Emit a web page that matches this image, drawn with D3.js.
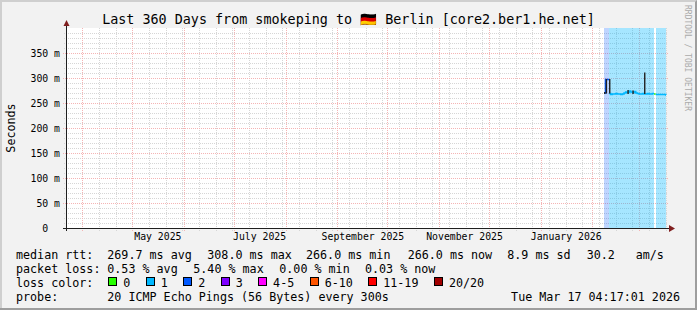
<!DOCTYPE html>
<html>
<head>
<meta charset="utf-8">
<script src="https://cdn.jsdelivr.net/npm/d3@7"></script>
<style>
  body { margin: 0; background: #f2f2f2; }
  svg text { font-family: "DejaVu Sans Mono", monospace; white-space: pre; fill: #000; }
</style>
</head>
<body>
<script>
// graph window: 360 days ending at the graph time (UTC so the sandbox TZ does not matter)
var startTime = new Date(Date.UTC(2025, 2, 22, 4, 17, 1)),
    endTime = new Date(Date.UTC(2026, 2, 17, 4, 17, 1));

var yTicks = [0, 50, 100, 150, 200, 250, 300, 350];
var labelDates = ["2025-05-16", "2025-07-16", "2025-09-16", "2025-11-16", "2026-01-16"];
var labelNames = ["May 2025", "July 2025", "September 2025", "November 2025", "January 2026"];

// daily consolidated median rtt (ms) and loss class (index into lossColors)
var days = ["2026-02-08", "2026-02-09", "2026-02-10", "2026-02-11", "2026-02-12", "2026-02-13",
            "2026-02-14", "2026-02-15", "2026-02-16", "2026-02-17", "2026-02-18", "2026-02-19",
            "2026-02-20", "2026-02-21", "2026-02-22", "2026-02-23", "2026-02-24", "2026-02-25",
            "2026-02-26", "2026-02-27", "2026-02-28", "2026-03-01", "2026-03-02", "2026-03-03",
            "2026-03-04", "2026-03-05", "2026-03-06", "2026-03-07", "2026-03-08", "2026-03-09",
            "2026-03-10", "2026-03-11", "2026-03-12", "2026-03-13", "2026-03-14", "2026-03-15",
            "2026-03-16", "2026-03-17"];
var median = [270, 297, 297, 269, 267, 268, 268, 269, 268, 268, 267, 268,
              270, 272, 271, 274, 272, 271, 273, 270, 269, 268, 268, 269,
              268, 268, 269, 268, 268, 269, 268, 267, 267, 267, 267, 267,
              267, 266];
var loss = [2, 2, 2, 1, 1, 1, 1, 1, 1, 1, 1, 1,
            1, 1, 1, 1, 1, 1, 1, 1, 1, 1, 1, 1,
            1, 1, 1, 1, 1, 1, 0, 1, 1, 1, 1, 1,
            1, 1];

// smoke (ping spread) where it shows up
var smokeDays = ["2026-02-08", "2026-02-09", "2026-02-11", "2026-02-22", "2026-02-25", "2026-03-04"];
var smokeLo = [268, 269, 269, 268, 268, 268];
var smokeHi = [272, 298, 298, 276, 275, 311];

var lossColors = ["#26ff00", "#00b8ff", "#0059ff", "#7e00ff", "#ff00ff", "#ff5500", "#ff0000", "#a10000"];
var lossLabels = ["0", "1", "2", "3", "4-5", "6-10", "11-19", "20/20"];

var rttLegend = ["269.7 ms avg", "308.0 ms max", "266.0 ms min", "266.0 ms now", "8.9 ms sd", "30.2", "am/s"];
var lossLegend = ["0.53 % avg", "5.40 % max", "0.00 % min", "0.03 % now"];

var W = 697, H = 310;
var parse = d3.utcParse("%Y-%m-%d");

var svg = d3.select("body").append("svg")
    .attr("width", W)
    .attr("height", H);

// frame: back + shades
svg.append("rect").attr("width", W).attr("height", H).attr("fill", "#f2f2f2");
svg.append("path").attr("d", "M0,0H" + W + "V2H2V" + H + "H0Z").attr("fill", "#cfcfcf");
svg.append("path").attr("d", "M" + W + ",0V" + H + "H0V" + (H - 2) + "H" + (W - 2) + "V2Z").attr("fill", "#9e9e9e");

var x = d3.scaleUtc().domain([startTime, endTime]).range([66, 666]);
var y = d3.scaleLinear().domain([0, 400]).range([228, 28]);

svg.append("rect")
    .attr("x", 66).attr("y", 28)
    .attr("width", 600).attr("height", 200)
    .attr("fill", "#fff");

var px = function(v) { return Math.round(v) + 0.5; };

// minor grid
var grid = svg.append("g").attr("fill", "none").attr("stroke-width", 1).attr("stroke-dasharray", "1,1");
grid.selectAll(".hmin")
    .data(y.ticks(40).filter(function(d) { return d % 50 !== 0; }))
  .enter().append("line")
    .attr("x1", 64).attr("x2", 668)
    .attr("y1", function(d) { return px(y(d)); })
    .attr("y2", function(d) { return px(y(d)); })
    .attr("stroke", "#d6d6d6");
grid.selectAll(".vmin")
    .data(d3.utcDay.range(d3.utcDay.floor(startTime), endTime, 10).filter(function(d) { return x(d) > 67; }))
  .enter().append("line")
    .attr("y1", 28).attr("y2", 231)
    .attr("x1", function(d) { return px(x(d)); })
    .attr("x2", function(d) { return px(x(d)); })
    .attr("stroke", "#d6d6d6");

// major grid
grid.selectAll(".hmaj")
    .data(yTicks.filter(function(d) { return d > 0; }))
  .enter().append("line")
    .attr("x1", 63).attr("x2", 668)
    .attr("y1", function(d) { return px(y(d)); })
    .attr("y2", function(d) { return px(y(d)); })
    .attr("stroke", "#f5b4b4");
grid.selectAll(".vmaj")
    .data(d3.utcMonth.range(startTime, endTime))
  .enter().append("line")
    .attr("y1", 28).attr("y2", 231)
    .attr("x1", function(d) { return px(x(d)); })
    .attr("x2", function(d) { return px(x(d)); })
    .attr("stroke", "#f5b4b4");

// loss background + median runs
var pts = days.map(function(d, i) {
  return { t: parse(d), v: median[i], c: loss[i] };
});
var runs = [];
pts.forEach(function(p, i) {
  var next = i + 1 < pts.length ? pts[i + 1].t : endTime;
  var last = runs[runs.length - 1];
  if (!last || last.c !== p.c) {
    last = { c: p.c, pts: [] };
    runs.push(last);
  }
  last.pts.push(p);
  last.end = next;
});

svg.append("g").selectAll("rect")
    .data(runs.filter(function(r) { return r.c > 0; }))
  .enter().append("rect")
    .attr("x", function(r) { return Math.round(x(r.pts[0].t)); })
    .attr("width", function(r) { return Math.round(x(r.end)) - Math.round(x(r.pts[0].t)); })
    .attr("y", 28)
    .attr("height", 200)
    .attr("fill", function(r) { return lossColors[r.c]; })
    .attr("fill-opacity", function(r) { return r.c === 1 ? 0.35 : 0.25; });

var line = d3.line()
    .x(function(p) { return x(p.t); })
    .y(function(p) { return y(p.v); })
    .curve(d3.curveStepAfter);

svg.append("g").selectAll("path")
    .data(runs)
  .enter().append("path")
    .attr("fill", "none")
    .attr("stroke", function(r) { return lossColors[r.c]; })
    .attr("stroke-width", 1.6)
    .attr("d", function(r) {
      var last = r.pts[r.pts.length - 1];
      return line(r.pts.concat([{ t: r.end, v: last.v }]));
    });

// smoke
svg.append("g").selectAll("rect")
    .data(smokeDays)
  .enter().append("rect")
    .attr("x", function(d) { return x(parse(d)); })
    .attr("width", 1.4)
    .attr("y", function(d, i) { return y(smokeHi[i]); })
    .attr("height", function(d, i) { return y(smokeLo[i]) - y(smokeHi[i]); })
    .attr("fill", "#222");

// axes lines + arrows
svg.append("line").attr("x1", 63).attr("x2", 670).attr("y1", 228.5).attr("y2", 228.5)
    .attr("stroke", "#1f1f1f");
svg.append("line").attr("x1", 66.5).attr("x2", 66.5).attr("y1", 231).attr("y2", 24)
    .attr("stroke", "#1f1f1f");
svg.append("path").attr("d", "M669,225L675,228.5L669,232Z").attr("fill", "#801f1f");
svg.append("path").attr("d", "M63.5,26L66.5,20L69.5,26Z").attr("fill", "#801f1f");

// y labels
var yAxis = svg.append("g")
    .attr("transform", "translate(66,0)")
    .call(d3.axisLeft(y).tickValues(yTicks).tickSize(0).tickPadding(6)
      .tickFormat(function(d) { return d === 0 ? "0  " : d + " m"; }));
yAxis.select(".domain").remove();
yAxis.selectAll("text")
    .attr("font-family", "DejaVu Sans Mono")
    .attr("font-size", "9.8px")
    .style("white-space", "pre");

// x labels
var xAxis = svg.append("g")
    .attr("transform", "translate(0,228)")
    .call(d3.axisBottom(x).tickValues(labelDates.map(parse)).tickSize(0).tickPadding(5)
      .tickFormat(function(d, i) { return labelNames[i]; }));
xAxis.select(".domain").remove();
xAxis.selectAll("text")
    .attr("font-family", "DejaVu Sans Mono")
    .attr("font-size", "9.8px");

// title
svg.append("text")
    .attr("x", 348.5).attr("y", 24)
    .attr("text-anchor", "middle")
    .attr("font-size", "13.4px")
    .text("Last 360 Days from smokeping to \u{1F1E9}\u{1F1EA} Berlin [core2.ber1.he.net]");

svg.append("text")
    .attr("transform", "translate(15,128) rotate(-90)")
    .attr("text-anchor", "middle")
    .attr("font-size", "11.7px")
    .text("Seconds");

svg.append("text")
    .attr("transform", "translate(685,5) rotate(90)")
    .attr("font-size", "8px")
    .style("fill", "#aaa")
    .text("RRDTOOL / TOBI OETIKER");

// legend
var lg = svg.append("g").attr("font-size", "11.7px");
lg.append("text").attr("x", 16).attr("y", 259).text("median rtt:");
var rttX = [107.3, 207.3, 306, 407.7, 507.3, 586.7, 635.7];
lg.selectAll(".rtt").data(rttLegend).enter().append("text")
    .attr("x", function(d, i) { return rttX[i]; }).attr("y", 259).text(function(d) { return d; });

lg.append("text").attr("x", 16).attr("y", 273).text("packet loss:");
var lossX = [107.3, 193.3, 279.3, 365];
lg.selectAll(".pl").data(lossLegend).enter().append("text")
    .attr("x", function(d, i) { return lossX[i]; }).attr("y", 273).text(function(d) { return d; });

lg.append("text").attr("x", 16).attr("y", 287).text("loss color:");
var cw = 7.05, bx = 108.3;
lossLabels.forEach(function(l, i) {
  var bxr = Math.round(bx);
  lg.append("rect")
      .attr("x", bxr + 0.5).attr("y", 277.5)
      .attr("width", 8).attr("height", 8)
      .attr("fill", lossColors[i])
      .attr("stroke", "#000");
  lg.append("text").attr("x", bx + 15).attr("y", 287).text(l);
  bx += 15 + l.length * cw + 15.4;
});

lg.append("text").attr("x", 16).attr("y", 301).text("probe:");
lg.append("text").attr("x", 107.3).attr("y", 301).text("20 ICMP Echo Pings (56 Bytes) every 300s");
lg.append("text").attr("x", 680).attr("y", 301).attr("text-anchor", "end").text("Tue Mar 17 04:17:01 2026");
</script>
</body>
</html>
